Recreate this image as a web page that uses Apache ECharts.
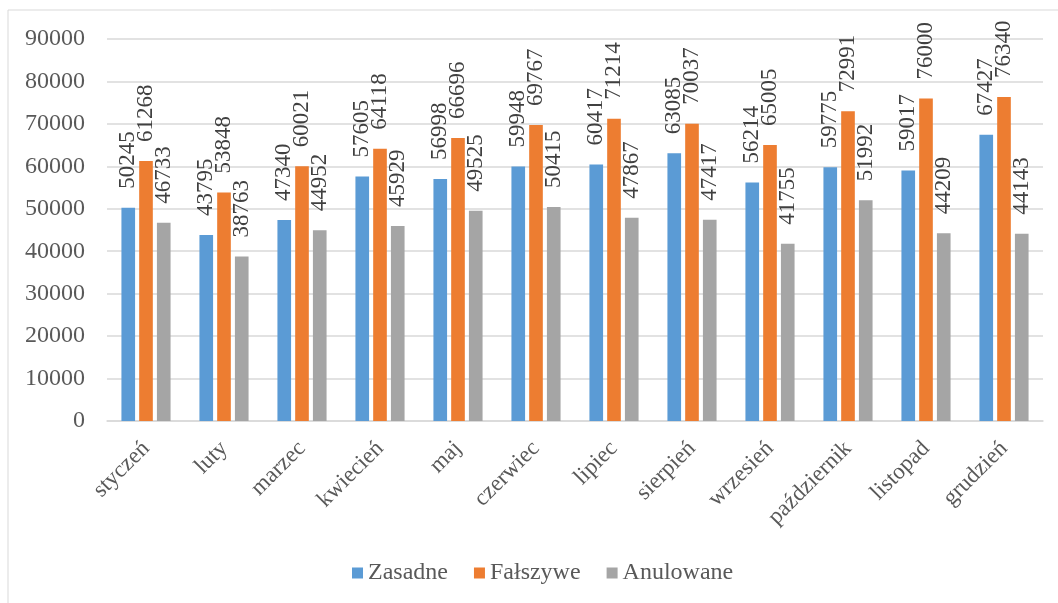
<!DOCTYPE html>
<html>
<head>
<meta charset="utf-8">
<script src="https://cdn.jsdelivr.net/npm/echarts@6/dist/echarts.min.js"></script>
<style>html,body{margin:0;padding:0;background:#fff;}#c{width:1058px;height:603px;}</style>
</head>
<body>
<div id="c"></div>
<script>
const categories = ['styczeń','luty','marzec','kwiecień','maj','czerwiec','lipiec','sierpień','wrzesień','październik','listopad','grudzień'];
const zasadne = [50245,43795,47340,57605,56998,59948,60417,63085,56214,59775,59017,67427];
const falszywe = [61268,53848,60021,64118,66696,69767,71214,70037,65005,72991,76000,76340];
const anulowane = [46733,38763,44952,45929,49525,50415,47867,47417,41755,51992,44209,44143];
const seriesNames = ['Zasadne','Fałszywe','Anulowane'];
const colors = ['#5B9BD5','#ED7D31','#A5A5A5'];

const font = '"Liberation Serif","Times New Roman",serif';
const chart = echarts.init(document.getElementById('c'), null, {renderer:'canvas'});
const mk = (name, data, color) => ({
  name, type:'bar', data, barWidth:'17.5%', barGap:'30%',
  itemStyle:{color},
  label:{show:true, position:'top', rotate:90, align:'left', verticalAlign:'middle', distance:17, offset:[2,0],
    fontFamily:font, fontSize:23, color:'#404040'}
});
chart.setOption({
  animation:false,
  color: colors,
  graphic:[{type:'rect', shape:{x:8,y:10,width:1100,height:700}, style:{fill:'none', stroke:'#D9D9D9', lineWidth:1}}],
  grid:{left:107, right:15, top:39, bottom:182, containLabel:false},
  legend:{bottom:13, left:347, itemWidth:11, itemHeight:11, itemGap:26, icon:'rect',
    textStyle:{fontFamily:font, fontSize:24, color:'#595959'},
    data: seriesNames},
  xAxis:{type:'category', data:categories,
    axisLine:{lineStyle:{color:'#D9D9D9', width:1.5}}, axisTick:{show:false},
    axisLabel:{rotate:45, interval:0, margin:24, fontFamily:font, fontSize:23, color:'#595959'}},
  yAxis:{type:'value', min:0, max:90000, interval:10000,
    axisLine:{show:false}, axisTick:{show:false},
    splitLine:{lineStyle:{color:'#D9D9D9', width:1.5}},
    axisLabel:{margin:22, fontFamily:font, fontSize:24, color:'#595959', formatter: v => String(v)}},
  series:[mk(seriesNames[0], zasadne, colors[0]), mk(seriesNames[1], falszywe, colors[1]), mk(seriesNames[2], anulowane, colors[2])]
});
</script>
</body>
</html>
